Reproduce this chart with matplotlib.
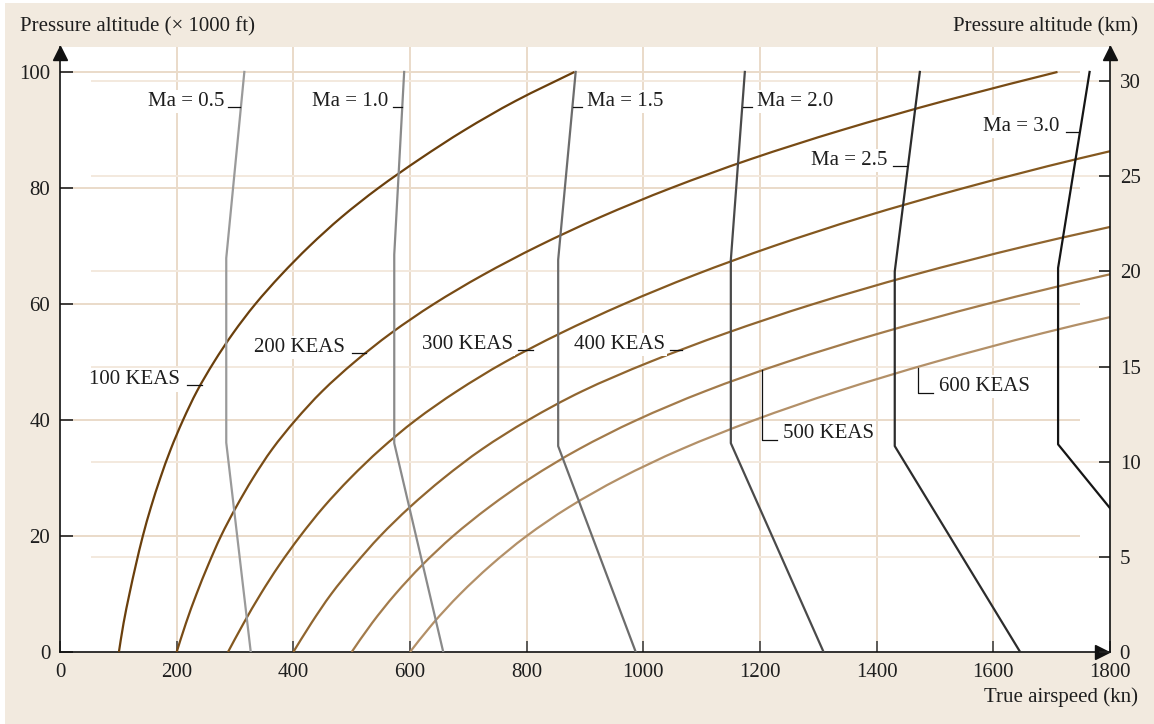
import matplotlib
matplotlib.use('Agg')
import matplotlib.pyplot as plt
from matplotlib.patches import Rectangle, PathPatch
from matplotlib.path import Path

plt.rcParams['font.family'] = ['Liberation Serif', 'DejaVu Serif']

## 데이터
# KEAS 곡선: 고도 (x1000 ft) 별 진대기속도 (kn)
alt = [0, 5, 10, 15, 20, 25, 30, 35, 40, 45, 50, 55, 60, 65, 70, 75, 80, 85, 90, 95, 100]
keas_100 = [101, 109, 119, 130, 142, 156, 172, 190, 211, 235, 264, 297, 335, 379, 428, 483, 546, 617, 694, 781, 882]
keas_200 = [200, 216, 234, 254, 276, 302, 331, 364, 404, 450, 505, 568, 641, 725, 820, 927, 1048, 1185, 1341, 1516, 1710]
keas_300 = [288, 315, 344, 376, 412, 452, 498, 550, 610, 681, 763, 859, 967, 1088, 1224, 1377, 1550, 1744, 1962]
keas_400 = [400, 431, 465, 505, 549, 600, 658, 724, 803, 896, 1011, 1143, 1292, 1463, 1657, 1877]
keas_500 = [500, 535, 575, 621, 674, 736, 807, 890, 989, 1107, 1246, 1407, 1589, 1795, 2028]
keas_600 = [600, 640, 686, 739, 800, 873, 961, 1066, 1191, 1335, 1500, 1686, 1897]
keas_names = ['100 KEAS', '200 KEAS', '300 KEAS', '400 KEAS', '500 KEAS', '600 KEAS']

# 마하수 선: (진대기속도 kn, 고도 x1000 ft)
ma05_tas = [327, 285, 285, 316]
ma05_alt = [0, 36.1, 67.9, 100]
ma10_tas = [657, 573, 573, 590]
ma10_alt = [0, 36.0, 68.5, 100]
ma15_tas = [987, 854, 854, 884]
ma15_alt = [0, 35.5, 67.6, 100]
ma20_tas = [1309, 1150, 1150, 1174]
ma20_alt = [0, 36.0, 67.6, 100]
ma25_tas = [1646, 1431, 1431, 1474]
ma25_alt = [0, 35.5, 65.6, 100]
ma30_tas = [1800, 1711, 1711, 1765]
ma30_alt = [24.8, 35.8, 66.2, 100]
ma_names = ['Ma = 0.5', 'Ma = 1.0', 'Ma = 1.5', 'Ma = 2.0', 'Ma = 2.5', 'Ma = 3.0']

x_ticks = [0, 200, 400, 600, 800, 1000, 1200, 1400, 1600, 1800]
ft_ticks = [0, 20, 40, 60, 80, 100]
km_ticks = [0, 5, 10, 15, 20, 25, 30]

## 스타일
bg = '#f2eadf'
grid_c = '#eadbc9'
grid_km = '#f3e9de'
keas_colors = ['#6a3f0c', '#784b15', '#84581f', '#90652f', '#a37b4b', '#b39068']
ma_colors = ['#9a9a9a', '#8a8a8a', '#6c6c6c', '#4a4a4a', '#2c2c2c', '#151515']
FS = 15
ytop = 104.3


def smooth_path(xs, ys):
    # 읽은 점들을 지나는 부드러운 베지어 경로 (Catmull-Rom)
    pts = list(zip(xs, ys))
    n = len(pts)
    verts = [pts[0]]
    codes = [Path.MOVETO]
    for i in range(n - 1):
        p0 = pts[max(i - 1, 0)]
        p1 = pts[i]
        p2 = pts[i + 1]
        p3 = pts[min(i + 2, n - 1)]
        c1 = (p1[0] + (p2[0] - p0[0]) / 6, p1[1] + (p2[1] - p0[1]) / 6)
        c2 = (p2[0] - (p3[0] - p1[0]) / 6, p2[1] - (p3[1] - p1[1]) / 6)
        verts += [c1, c2, p2]
        codes += [Path.CURVE4] * 3
    return Path(verts, codes)


fig = plt.figure(figsize=(11.54, 7.24), dpi=100)
fig.patch.set_facecolor('white')
fig.add_artist(Rectangle((5 / 1154, 0), 1, 1 - 3 / 724, transform=fig.transFigure,
                         facecolor=bg, edgecolor='none', zorder=-10))

ax = fig.add_axes([60 / 1154, 72 / 724, 1050 / 1154, 605 / 724])
ax.set_facecolor('white')
ax.set_xlim(0, 1800)
ax.set_ylim(0, ytop)

# 격자
ax.vlines(x_ticks[1:-1], 0, ytop, color=grid_c, lw=1.4, zorder=0.5)
ax.hlines(ft_ticks[1:], 0, 1748, color=grid_c, lw=1.4, zorder=0.5)
ax.hlines([k / 0.3048 for k in km_ticks[1:]], 53, 1800, color=grid_km, lw=1.4, zorder=0.5)

# KEAS 곡선
for vals, c in zip([keas_100, keas_200, keas_300, keas_400, keas_500, keas_600], keas_colors):
    p = PathPatch(smooth_path(vals, alt[:len(vals)]), facecolor='none', edgecolor=c,
                  lw=1.6, zorder=3, capstyle='butt')
    ax.add_patch(p)

# 마하수 선
for xs, ys, c in zip([ma05_tas, ma10_tas, ma15_tas, ma20_tas, ma25_tas, ma30_tas],
                     [ma05_alt, ma10_alt, ma15_alt, ma20_alt, ma25_alt, ma30_alt], ma_colors):
    ax.plot(xs, ys, color=c, lw=1.6, zorder=3)

# 라벨 (글자 + 짧은 지시선)
box = dict(facecolor='white', edgecolor='none', pad=1.5)
tkw = dict(fontsize=FS, color='#1e1e1e', bbox=box, zorder=4)
lkw = dict(color='#111111', lw=0.9, zorder=4)

# Ma 라벨: (글자 x, 정렬, 지시선 x0, x1, y)
ma_lab = [(281, 'right', 288, 309, 94.0),
          (562, 'right', 571, 586, 94.0),
          (903, 'left', 879, 895, 94.0),
          (1195, 'left', 1171, 1186, 94.0),
          (1419, 'right', 1428, 1452, 83.8),
          (1714, 'right', 1725, 1745, 89.7)]
for name, (tx, ha, x0, x1, y) in zip(ma_names, ma_lab):
    ax.plot([x0, x1], [y, y], **lkw)
    ax.text(tx, y + 0.9, name, ha=ha, va='center', **tkw)

# KEAS 라벨
keas_lab = [(206, 218, 243, 46.0),
            (489, 501, 525, 51.6),
            (777, 785, 811, 52.1),
            (1037, 1046, 1066, 52.1)]
for name, (tx, x0, x1, y) in zip(keas_names[:4], keas_lab):
    ax.plot([x0, x1], [y, y], **lkw)
    ax.text(tx, y + 0.9, name, ha='right', va='center', **tkw)

ax.plot([1204, 1204, 1229], [48.6, 36.55, 36.55], **lkw)
ax.text(1240, 37.6, keas_names[4], ha='left', va='center', **tkw)
ax.plot([1471, 1471, 1497], [48.9, 44.6, 44.6], **lkw)
ax.text(1507, 45.7, keas_names[5], ha='left', va='center', **tkw)

# 축
for s in ['top', 'right']:
    ax.spines[s].set_visible(False)
for s in ['left', 'bottom']:
    ax.spines[s].set_linewidth(1.2)
    ax.spines[s].set_color('#111111')

ax.set_xticks(x_ticks)
ax.set_yticks(ft_ticks)
ax.tick_params(axis='x', direction='in', length=8, width=1.2, color='#444444', pad=8, labelsize=FS)
ax.tick_params(axis='y', direction='in', length=9, width=1.2, color='#222222', pad=7, labelsize=FS)
for lab in ax.get_xticklabels() + ax.get_yticklabels():
    lab.set_color('#1e1e1e')

ax2 = ax.twinx()
ax2.set_ylim(0, ytop * 0.3048)
ax2.set_yticks(km_ticks)
for s in ['top', 'left', 'bottom']:
    ax2.spines[s].set_visible(False)
ax2.spines['right'].set_linewidth(1.2)
ax2.spines['right'].set_color('#111111')
ax2.tick_params(axis='y', direction='in', length=8, width=1.2, color='#222222', pad=7,
                labelsize=FS, labelcolor='#1e1e1e')

# 화살표
ax.plot(0, ytop - 1.1, marker='^', color='#111111', markersize=10, clip_on=False, zorder=6)
ax.plot(1800, ytop - 1.1, marker='^', color='#111111', markersize=10, clip_on=False, zorder=6)
ax.plot(1786, 0, marker='>', color='#111111', markersize=10, clip_on=False, zorder=6)

# 축 제목
fig.text(20 / 1154, 1 - 27 / 724, 'Pressure altitude (× 1000 ft)', ha='left', va='center',
         fontsize=FS, color='#1e1e1e')
fig.text(1138 / 1154, 1 - 27 / 724, 'Pressure altitude (km)', ha='right', va='center',
         fontsize=FS, color='#1e1e1e')
fig.text(1138 / 1154, 1 - 697 / 724, 'True airspeed (kn)', ha='right', va='center',
         fontsize=FS, color='#1e1e1e')

fig.savefig('out.png', dpi=100)
